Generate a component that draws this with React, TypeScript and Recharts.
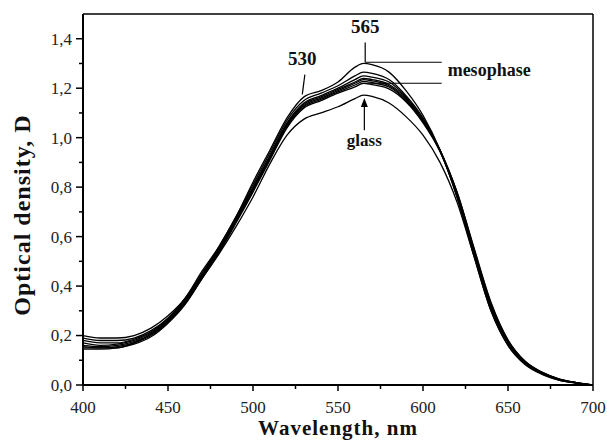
import { LineChart, Line, XAxis, YAxis, ReferenceLine, ReferenceDot, Label } from 'recharts';

const wavelengths = [400, 410, 420, 430, 440, 450, 460, 470, 480, 490, 500, 510, 520, 530, 540, 550, 560, 565, 570, 580, 590, 600, 610, 620, 630, 640, 650, 660, 670, 680, 690, 700];

// mesophase (top) ... glass (bottom)
const s1 = [0.20, 0.19, 0.19, 0.20, 0.23, 0.28, 0.35, 0.46, 0.56, 0.68, 0.82, 0.95, 1.08, 1.165, 1.19, 1.225, 1.285, 1.30, 1.295, 1.265, 1.19, 1.09, 0.95, 0.76, 0.52, 0.30, 0.16, 0.085, 0.045, 0.02, 0.008, 0.0];
const s2 = [0.19, 0.18, 0.18, 0.19, 0.22, 0.27, 0.35, 0.45, 0.56, 0.68, 0.81, 0.94, 1.07, 1.15, 1.18, 1.21, 1.25, 1.265, 1.26, 1.235, 1.17, 1.08, 0.95, 0.76, 0.53, 0.31, 0.17, 0.09, 0.047, 0.022, 0.009, 0.0];
const s3 = [0.18, 0.17, 0.17, 0.185, 0.215, 0.27, 0.345, 0.45, 0.555, 0.675, 0.80, 0.93, 1.06, 1.14, 1.17, 1.20, 1.235, 1.25, 1.245, 1.225, 1.165, 1.075, 0.945, 0.765, 0.535, 0.315, 0.17, 0.09, 0.048, 0.022, 0.009, 0.0];
const s4 = [0.17, 0.16, 0.165, 0.18, 0.21, 0.265, 0.34, 0.445, 0.55, 0.67, 0.795, 0.925, 1.055, 1.135, 1.165, 1.195, 1.225, 1.24, 1.235, 1.215, 1.16, 1.07, 0.945, 0.77, 0.54, 0.32, 0.175, 0.092, 0.05, 0.023, 0.01, 0.0];
const s5 = [0.16, 0.155, 0.16, 0.175, 0.205, 0.26, 0.335, 0.44, 0.545, 0.665, 0.79, 0.92, 1.05, 1.13, 1.16, 1.19, 1.22, 1.235, 1.23, 1.21, 1.155, 1.07, 0.95, 0.775, 0.545, 0.325, 0.178, 0.094, 0.05, 0.024, 0.01, 0.0];
const s6 = [0.155, 0.15, 0.155, 0.17, 0.2, 0.255, 0.33, 0.435, 0.54, 0.66, 0.785, 0.915, 1.045, 1.125, 1.155, 1.185, 1.213, 1.228, 1.222, 1.205, 1.15, 1.065, 0.95, 0.78, 0.55, 0.33, 0.18, 0.095, 0.051, 0.024, 0.01, 0.0];
const s7 = [0.145, 0.145, 0.15, 0.165, 0.195, 0.25, 0.325, 0.43, 0.535, 0.655, 0.78, 0.91, 1.04, 1.12, 1.15, 1.18, 1.205, 1.22, 1.214, 1.197, 1.145, 1.06, 0.945, 0.78, 0.555, 0.335, 0.183, 0.097, 0.052, 0.025, 0.01, 0.0];
const s8 = [0.15, 0.15, 0.15, 0.17, 0.205, 0.26, 0.33, 0.43, 0.53, 0.64, 0.76, 0.895, 1.01, 1.075, 1.10, 1.125, 1.158, 1.172, 1.167, 1.14, 1.085, 1.01, 0.90, 0.74, 0.52, 0.30, 0.16, 0.083, 0.043, 0.02, 0.008, 0.0];

const series = [s1, s2, s3, s4, s5, s6, s7, s8];

const xTicks = [400, 425, 450, 475, 500, 525, 550, 575, 600, 625, 650, 675, 700];
const yTicks = [0, 0.1, 0.2, 0.3, 0.4, 0.5, 0.6, 0.7, 0.8, 0.9, 1.0, 1.1, 1.2, 1.3, 1.4];

const data = wavelengths.map((w, i) => {
  const row: any = { w };
  series.forEach((s, k) => (row['s' + k] = s[i]));
  return row;
});

const FONT = '"Liberation Serif", "Times New Roman", serif';

const XTick = ({ x, y, payload }: any) => {
  const major = payload.value % 50 === 0;
  return (
    <g>
      <line x1={x} x2={x} y1={y} y2={y + (major ? 6 : 4)} stroke="#000" strokeWidth={1.5} />
      {major && (
        <text x={x} y={y + 28} textAnchor="middle" fontFamily={FONT} fontSize={17} fill="#222">
          {payload.value}
        </text>
      )}
    </g>
  );
};

const YTick = ({ x, y, payload }: any) => {
  const major = Math.round(payload.value * 10) % 2 === 0;
  return (
    <g>
      <line x1={x} x2={x - (major ? 7 : 4)} y1={y} y2={y} stroke="#000" strokeWidth={1.5} />
      {major && (
        <text x={x - 11} y={y} dy="0.35em" textAnchor="end" fontFamily={FONT} fontSize={17} fill="#222">
          {payload.value.toFixed(1).replace('.', ',')}
        </text>
      )}
    </g>
  );
};

const note = (txt: string, size: number, anchor: string = 'middle') => (p: any) => (
  <text x={p.cx} y={p.cy} dy="0.35em" textAnchor={anchor} fontFamily={FONT} fontWeight="bold" fontSize={size} fill="#111">
    {txt}
  </text>
);

const arrowHead = (p: any) => (
  <polygon points={`${p.cx},${p.cy} ${p.cx - 3.5},${p.cy + 9} ${p.cx + 3.5},${p.cy + 9}`} fill="#000" />
);

export default function App() {
  return (
    <div style={{ position: 'absolute', left: 0, top: 0, width: 607, height: 442, background: '#fff' }}>
      <LineChart width={607} height={442} data={data} margin={{ top: 14, right: 14, left: 0, bottom: 0 }}>
        <XAxis
          dataKey="w"
          type="number"
          domain={[400, 700]}
          ticks={xTicks}
          interval={0}
          tickSize={0}
          tickMargin={0}
          height={57}
          tick={<XTick />}
          tickLine={false}
          axisLine={{ stroke: '#000', strokeWidth: 2 }}
        >
          <Label
            content={({ viewBox }: any) => (
              <text
                x={viewBox.x + viewBox.width / 2}
                y={435}
                textAnchor="middle"
                fontFamily={FONT}
                fontWeight="bold"
                fontSize={21}
                letterSpacing={1}
                fill="#111"
              >
                Wavelength, nm
              </text>
            )}
          />
        </XAxis>
        <YAxis
          type="number"
          domain={[0, 1.5]}
          ticks={yTicks}
          interval={0}
          tickSize={0}
          tickMargin={0}
          width={83}
          tick={<YTick />}
          tickLine={false}
          axisLine={{ stroke: '#000', strokeWidth: 2 }}
        >
          <Label
            content={() => (
              <text
                transform="translate(22, 215) rotate(-90)"
                textAnchor="middle"
                dy="0.35em"
                fontFamily={FONT}
                fontWeight="bold"
                fontSize={24}
                letterSpacing={1}
                fill="#111"
              >
                Optical density, D
              </text>
            )}
          />
        </YAxis>
        <ReferenceLine y={1.5} stroke="#000" strokeWidth={1.5} />
        <ReferenceLine x={700} stroke="#000" strokeWidth={1.5} />
        {series.map((_, k) => (
          <Line
            key={k}
            dataKey={'s' + k}
            type="monotone"
            stroke="#000"
            strokeWidth={1.3}
            dot={false}
            isAnimationActive={false}
          />
        ))}
        <ReferenceLine segment={[{ x: 566, y: 1.385 }, { x: 566, y: 1.305 }]} stroke="#000" strokeWidth={1.2} />
        <ReferenceLine segment={[{ x: 566, y: 1.305 }, { x: 611, y: 1.305 }]} stroke="#000" strokeWidth={1.2} />
        <ReferenceLine segment={[{ x: 567, y: 1.22 }, { x: 611, y: 1.22 }]} stroke="#000" strokeWidth={1.2} />
        <ReferenceLine segment={[{ x: 530.5, y: 1.255 }, { x: 529, y: 1.175 }]} stroke="#000" strokeWidth={1.2} />
        <ReferenceLine segment={[{ x: 565.5, y: 1.03 }, { x: 565.5, y: 1.125 }]} stroke="#000" strokeWidth={1.2} />
        <ReferenceDot x={565.5} y={1.16} r={0} shape={arrowHead} />
        <ReferenceDot x={566} y={1.45} r={0} shape={note('565', 19)} />
        <ReferenceDot x={529} y={1.32} r={0} shape={note('530', 19)} />
        <ReferenceDot x={614.5} y={1.275} r={0} shape={note('mesophase', 18, 'start')} />
        <ReferenceDot x={565.5} y={0.99} r={0} shape={note('glass', 17)} />
      </LineChart>
    </div>
  );
}
